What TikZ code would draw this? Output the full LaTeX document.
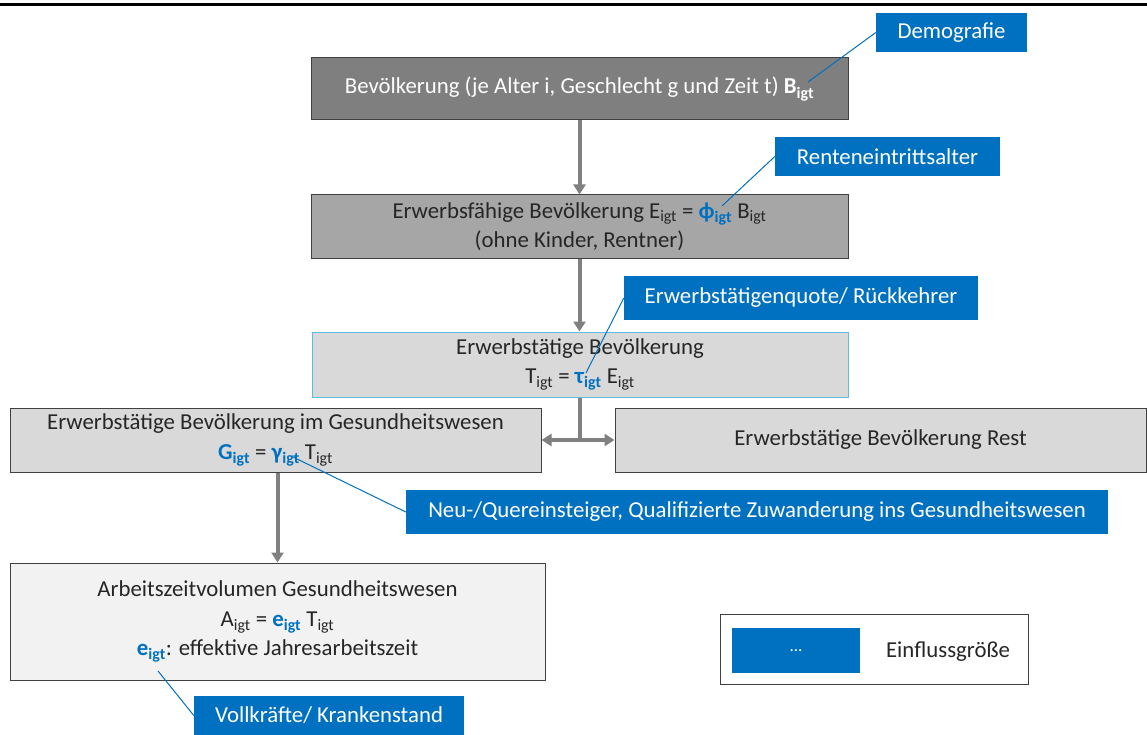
\documentclass[tikz,border=0pt]{standalone}
\usepackage{fontspec}
\setmainfont{Carlito}
\definecolor{Lever}{HTML}{0070C0}
\definecolor{Slate}{HTML}{7F7F7F}
\definecolor{Stone}{HTML}{A6A6A6}
\definecolor{Mist}{HTML}{D9D9D9}
\definecolor{Paper}{HTML}{F2F2F2}
\definecolor{Edge}{HTML}{404040}
\definecolor{Sky}{HTML}{5BBCE4}
\definecolor{Pipe}{HTML}{808080}
\definecolor{Ink}{HTML}{262626}
\usepackage{tikz}
\usetikzlibrary{arrows.meta}

\newcommand{\igt}{\textsubscript{igt}}
\newcommand{\lev}[1]{\textcolor{Lever}{\textbf{#1}\textsubscript{\textbf{igt}}}}

\begin{document}
\begin{tikzpicture}[
    x=1pt, y=-1pt,
    stage/.style={
      draw=Edge, line width=1pt, align=center, inner sep=0pt,
      text=Ink, font=\fontsize{22.8}{29.5}\selectfont
    },
    lever/.style={fill=Lever, text=white, inner sep=0pt, font=\fontsize{22.8}{29.5}\selectfont},
    wh/.style 2 args={minimum width=#1, minimum height=#2},
    flow/.style={-{Triangle[length=10pt,width=12pt]}, line width=4pt, Pipe},
    tie/.style={Lever, line width=1pt}
  ]
    \useasboundingbox (0,0) rectangle (1147,735);
    \draw[line width=3pt] (0,5) -- (1147,5);

    \node[stage, wh={537}{62}, fill=Slate, text=white] (pop) at (579.5,89)
      {Bevölkerung (je Alter i, Geschlecht g und Zeit t) \textbf{B}\textsubscript{\textbf{igt}}};
    \node[stage, wh={537}{63}, fill=Stone] (fae) at (579.5,226.5)
      {Erwerbsfähige Bevölkerung E\igt{} = \lev{ϕ} B\igt\\(ohne Kinder, Rentner)};
    \node[stage, wh={536}{65}, fill=Mist, draw=Sky] (etg) at (580,364.5)
      {Erwerbstätige Bevölkerung\\T\igt{} = \lev{τ} E\igt};
    \node[stage, wh={531}{64}, fill=Mist] (ges) at (275.5,440)
      {Erwerbstätige Bevölkerung im Gesundheitswesen\\\lev{G} = \lev{γ} T\igt};
    \node[stage, wh={531}{64}, fill=Mist] (rest) at (880.5,440)
      {Erwerbstätige Bevölkerung Rest};
    \node[stage, wh={535}{117}, fill=Paper, text depth=6pt] (azv) at (277.5,621.5)
      {Arbeitszeitvolumen Gesundheitswesen\\A\igt{} = \lev{e} T\igt\\\lev{e}: effektive Jahresarbeitszeit};

    % influencing factors
    \node[lever, wh={151}{39}] (demo) at (951.5,32.5) {Demografie};
    \node[lever, wh={225}{39}] (rente) at (887.5,156.5) {Renteneintrittsalter};
    \node[lever, wh={354}{44}] (quote) at (801,298) {Erwerbstätigenquote/ Rückkehrer};
    \node[lever, wh={702}{44}] (neu) at (757,512)
      {Neu-/Quereinsteiger, Qualifizierte Zuwanderung ins Gesundheitswesen};
    \node[lever, wh={270}{39}] (voll) at (329,715.5) {Vollkräfte/ Krankenstand};

    \coordinate (bmark) at (808,82);
    \coordinate (phimark) at (722,206);
    \coordinate (taumark) at (586,373);
    \coordinate (gammark) at (293,457);
    \coordinate (emark) at (158,671);

    \draw[tie] (demo.west) -- (bmark);
    \draw[tie] (rente.west) -- (phimark);
    \draw[tie] (quote.west) -- (taumark);
    \draw[tie] (neu.west) -- (gammark);
    \draw[tie] (voll.west) -- (emark);

    % legend
    \node[stage, wh={308}{70}, fill=white] (key) at (874,649) {};
    \node[lever, wh={128}{45}, font=\fontsize{17}{20}\selectfont] (keylever) at (796,650.5) {...};
    \node[stage, draw=none] (keytext) at (948,652) {Einflussgröße};

    \draw[flow] (pop) -- (fae);
    \draw[flow] (fae.south) -- (fae.south |- etg.north);
    \draw[Pipe, line width=4pt] (etg.south) -- (etg.south |- ges.east);
    \draw[flow, {Triangle[length=10pt,width=12pt]}-{Triangle[length=10pt,width=12pt]}] (ges.east) -- (rest.west);
    \draw[flow] (ges.south -| azv.north) -- (azv.north);
  \end{tikzpicture}
\end{document}
